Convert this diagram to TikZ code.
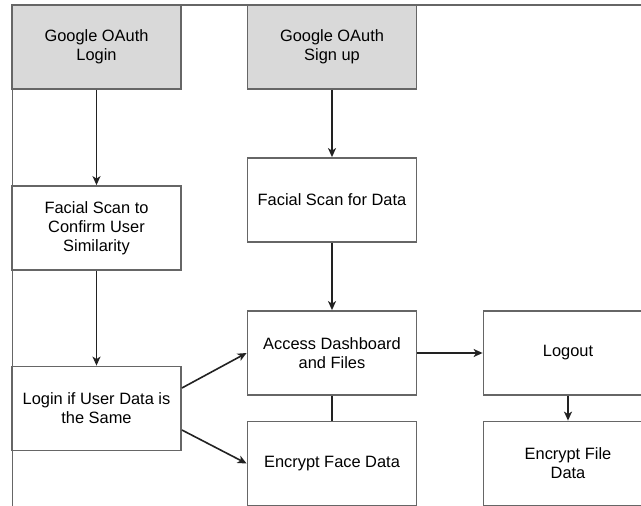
\documentclass[tikz,border=0pt]{standalone}
\usepackage{fontspec}
\setmainfont{Liberation Sans}
\usetikzlibrary{arrows.meta,calc}
\definecolor{boxline}{HTML}{666666}
\definecolor{graybox}{HTML}{D9D9D9}
\definecolor{arrowcol}{HTML}{222222}
\begin{document}
\begin{tikzpicture}[x=1pt,y=-1pt,
  stepbox/.style={draw=boxline,line width=1.8pt,fill=white,minimum width=169pt,minimum height=84pt,inner sep=0pt,align=center,font=\fontsize{16.4}{19}\selectfont},
  graystep/.style={stepbox,fill=graybox},
  conn/.style={draw=arrowcol,line width=1.6pt,-{Stealth[length=9pt,width=8pt,inset=2.5pt]}},
  plainconn/.style={draw=arrowcol,line width=1.6pt}]
\useasboundingbox (0,0) rectangle (641,506);
\clip (0,0) rectangle (641,506);
\fill[white] (0,0) rectangle (641,506);
% outer container frame (only top and left visible)
\draw[boxline,line width=1.8pt] (12.5,5) rectangle (720,620);
\node[graystep] (gl) at (96.5,47) {Google OAuth\\Login};
\node[graystep] (gs) at (332,47) {Google OAuth\\Sign up};
\node[stepbox] (fc) at (96.5,228) {Facial Scan to\\Confirm User\\Similarity};
\node[stepbox] (fd) at (332,200) {Facial Scan for Data};
\node[stepbox] (li) at (96.5,408.5) {Login if User Data is\\the Same};
\node[stepbox] (ad) at (332,353) {Access Dashboard\\and Files};
\node[stepbox] (ef) at (332,463.5) {Encrypt Face Data};
\node[stepbox] (lo) at (568,353) {Logout};
\node[stepbox] (efd) at (568,463.5) {Encrypt File\\Data};
\draw[conn] (gl.south) -- (fc.north);
\draw[conn] (fc.south) -- (li.north);
\draw[conn] (gs.south) -- (fd.north);
\draw[conn] (fd.south) -- (ad.north);
\draw[conn] ($(li.east)+(0,-20.5)$) -- (ad.west);
\draw[conn] ($(li.east)+(0,21.5)$) -- (ef.west);
\draw[conn] (ad.east) -- (lo.west);
\draw[plainconn] (ad.south) -- (ef.north);
\draw[conn] (lo.south) -- (efd.north);
\end{tikzpicture}
\end{document}
